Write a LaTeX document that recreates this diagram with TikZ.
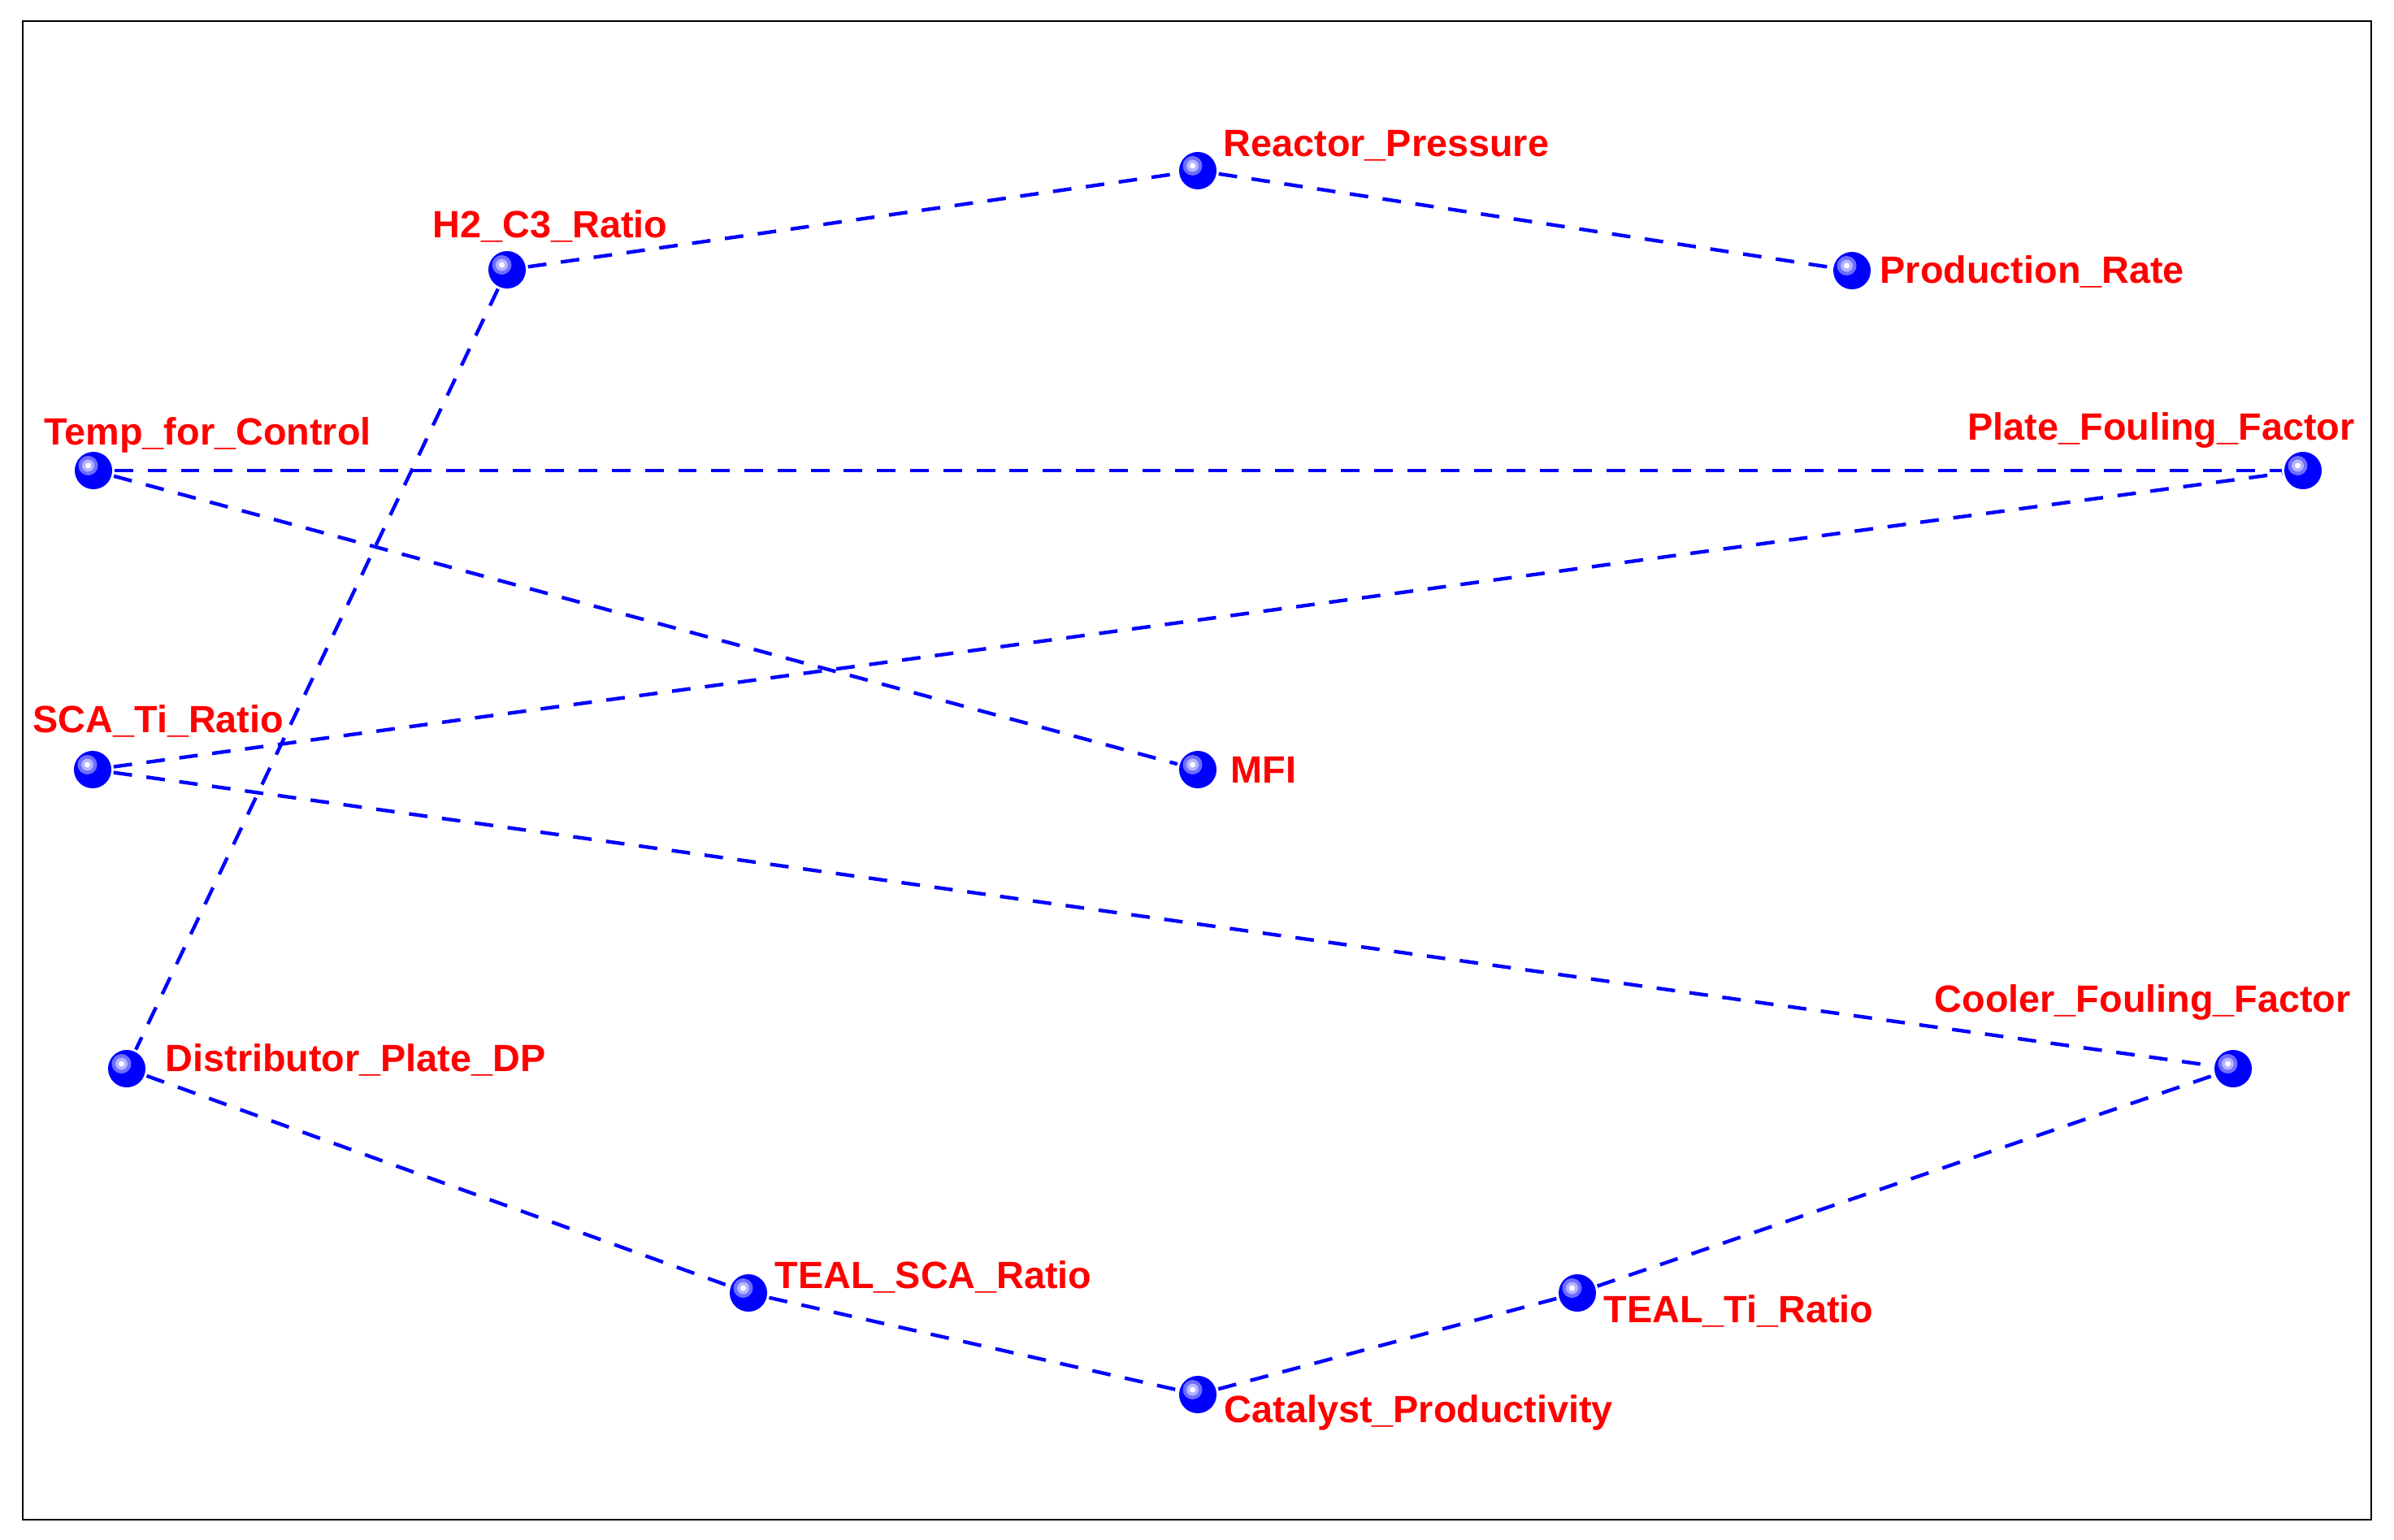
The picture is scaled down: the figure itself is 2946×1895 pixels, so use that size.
\documentclass[tikz,border=0pt]{standalone}
\usepackage{fontspec}
\setmainfont{Liberation Sans}
\definecolor{hlA}{RGB}{110,110,255}
\definecolor{hlB}{RGB}{180,180,255}
\begin{document}
\begin{tikzpicture}[x=0.01cm,y=-0.01cm,
  ball/.style={circle, fill=blue, minimum size=0.46cm, inner sep=0pt, outer sep=0.03cm,
    path picture={
      \fill[hlA] ([shift={(-0.065cm,0.06cm)}]path picture bounding box.center) circle (0.12cm);
      \fill[hlB] ([shift={(-0.065cm,0.06cm)}]path picture bounding box.center) circle (0.075cm);
      \fill[white] ([shift={(-0.065cm,0.06cm)}]path picture bounding box.center) circle (0.035cm);
    }},
  lab/.style={text=red, font=\fontsize{13.3}{15}\selectfont\bfseries, inner sep=0pt, anchor=base west},
  edge/.style={draw=blue, line width=1.25pt, dash pattern=on 6.5pt off 5.1pt}]
\useasboundingbox (0,0) rectangle (2946,1895);
\draw[line width=0.7pt] (28,26) rectangle (2918,1870);

\node[ball] (h2) at (624,332) {};
\node[ball] (rp) at (1474,210) {};
\node[ball] (pr) at (2279,333) {};
\node[ball] (tc) at (115,579) {};
\node[ball] (pf) at (2834,579) {};
\node[ball] (sca) at (114,947) {};
\node[ball] (mfi) at (1474,947) {};
\node[ball] (dp) at (156,1315) {};
\node[ball] (cf) at (2748,1315) {};
\node[ball] (tsca) at (921,1591) {};
\node[ball] (tti) at (1941,1591) {};
\node[ball] (cp) at (1474,1716) {};

\node[lab] (lh2) at (532,293) {H2\_C3\_Ratio};
\node[lab] (lrp) at (1505,193) {Reactor\_Pressure};
\node[lab] (lpr) at (2313,349) {Production\_Rate};
\node[lab] (ltc) at (54,548) {Temp\_for\_Control};
\node[lab] (lpf) at (2421,542) {Plate\_Fouling\_Factor};
\node[lab] (lsca) at (40,902) {SCA\_Ti\_Ratio};
\node[lab] (lmfi) at (1514,963) {MFI};
\node[lab] (ldp) at (203,1318) {Distributor\_Plate\_DP};
\node[lab] (lcf) at (2380,1245) {Cooler\_Fouling\_Factor};
\node[lab] (ltsca) at (953,1585) {TEAL\_SCA\_Ratio};
\node[lab] (ltti) at (1973,1627) {TEAL\_Ti\_Ratio};
\node[lab] (lcp) at (1506,1750) {Catalyst\_Productivity};

\draw[edge] (h2) -- (rp);
\draw[edge] (rp) -- (pr);
\draw[edge] (h2) -- (dp);
\draw[edge] (tc) -- (pf);
\draw[edge] (tc) -- (mfi);
\draw[edge] (sca) -- (pf);
\draw[edge] (sca) -- (cf);
\draw[edge] (dp) -- (tsca);
\draw[edge] (tsca) -- (cp);
\draw[edge] (cp) -- (tti);
\draw[edge] (tti) -- (cf);
\end{tikzpicture}
\end{document}
